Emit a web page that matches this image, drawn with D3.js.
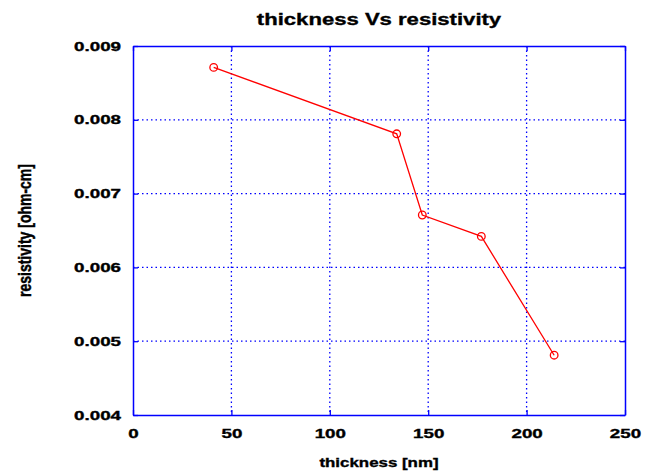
<!DOCTYPE html>
<html>
<head>
<meta charset="utf-8">
<script src="https://cdn.jsdelivr.net/npm/d3@7"></script>
<style>
  body { margin: 0; background: #fff; }
  text { font-family: "Liberation Sans", Arial, sans-serif; font-weight: bold; fill: #000; stroke: #000; stroke-width: 0.35px; }
</style>
</head>
<body>
<div id="chart"></div>
<script>
// data
const thickness = [41, 134, 147, 177, 214];
const resistivity = [0.00871, 0.00781, 0.00671, 0.00642, 0.00481];
const xTicks = [0, 50, 100, 150, 200, 250];
const yTicks = [0.004, 0.005, 0.006, 0.007, 0.008, 0.009];

const width = 654, height = 476;
const margin = { top: 46, right: 29, bottom: 61, left: 133 };
const axisBlue = "#0000ff";
const tickStretch = 1.5, labelStretch = 1.3;

const svg = d3.select("#chart").append("svg")
  .attr("width", width)
  .attr("height", height);

const x = d3.scaleLinear().domain([0, 250]).range([margin.left, width - margin.right]);
const y = d3.scaleLinear().domain([0.004, 0.009]).range([height - margin.bottom, margin.top]);

// dotted grid
svg.append("g")
  .selectAll("line")
  .data(xTicks.slice(1, -1))
  .join("line")
  .attr("x1", d => x(d)).attr("x2", d => x(d))
  .attr("y1", y.range()[1]).attr("y2", y.range()[0])
  .attr("stroke", axisBlue)
  .attr("stroke-width", 1.3)
  .attr("stroke-dasharray", "1.5,3");

svg.append("g")
  .selectAll("line")
  .data(yTicks.slice(1, -1))
  .join("line")
  .attr("y1", d => y(d)).attr("y2", d => y(d))
  .attr("x1", x.range()[0]).attr("x2", x.range()[1])
  .attr("stroke", axisBlue)
  .attr("stroke-width", 1.3)
  .attr("stroke-dasharray", "1.5,3");

// axes (ticks pointing inward, like matlab)
const xAxis = svg.append("g")
  .attr("transform", `translate(0,${y.range()[0]})`)
  .call(d3.axisBottom(x).tickValues(xTicks).tickSizeInner(-5).tickSizeOuter(0).tickFormat(d3.format("d")));
const xAxisTop = svg.append("g")
  .attr("transform", `translate(0,${y.range()[1]})`)
  .call(d3.axisTop(x).tickValues(xTicks).tickSizeInner(-5).tickSizeOuter(0).tickFormat(""));
const yAxis = svg.append("g")
  .attr("transform", `translate(${x.range()[0]},0)`)
  .call(d3.axisLeft(y).tickValues(yTicks).tickSizeInner(-5).tickSizeOuter(0).tickFormat(d3.format(".3f")));
const yAxisRight = svg.append("g")
  .attr("transform", `translate(${x.range()[1]},0)`)
  .call(d3.axisRight(y).tickValues(yTicks).tickSizeInner(-5).tickSizeOuter(0).tickFormat(""));

[xAxis, xAxisTop, yAxis, yAxisRight].forEach(g => {
  g.select(".domain").attr("stroke", axisBlue).attr("stroke-width", 1.5);
  g.selectAll(".tick line").attr("stroke", axisBlue).attr("stroke-width", 1.3);
  g.selectAll(".tick text")
    .attr("fill", "#000")
    .style("font-size", "12.5px")
    .style("font-weight", "bold");
});

// tick labels are drawn wide and heavy in the original
xAxis.selectAll(".tick text")
  .attr("y", 23).attr("dy", null)
  .attr("transform", `scale(${tickStretch},1)`);
yAxis.selectAll(".tick text")
  .attr("x", -12)
  .attr("transform", `translate(-12,0) scale(${tickStretch},1) translate(12,0)`);

// series
const pts = thickness.map((t, i) => ({ t: t, r: resistivity[i] }));

svg.append("path")
  .datum(pts)
  .attr("fill", "none")
  .attr("stroke", "#ff0000")
  .attr("stroke-width", 1.3)
  .attr("d", d3.line().x(d => x(d.t)).y(d => y(d.r)));

svg.append("g")
  .selectAll("circle")
  .data(pts)
  .join("circle")
  .attr("cx", d => x(d.t))
  .attr("cy", d => y(d.r))
  .attr("r", 3.8)
  .attr("fill", "none")
  .attr("stroke", "#ff0000")
  .attr("stroke-width", 1.3);

// labels
const cx = (x.range()[0] + x.range()[1]) / 2;

svg.append("text")
  .attr("transform", `translate(${cx},25) scale(${labelStretch},1)`)
  .attr("text-anchor", "middle")
  .style("font-size", "17px")
  .text("thickness Vs resistivity");

svg.append("text")
  .attr("transform", `translate(${cx},467) scale(${labelStretch},1)`)
  .attr("text-anchor", "middle")
  .style("font-size", "13px")
  .text("thickness [nm]");

svg.append("text")
  .attr("transform", `translate(31,${(y.range()[0] + y.range()[1]) / 2}) scale(${labelStretch},1) rotate(-90)`)
  .attr("text-anchor", "middle")
  .style("font-size", "14px")
  .text("resistivity [ohm-cm]");
</script>
</body>
</html>
